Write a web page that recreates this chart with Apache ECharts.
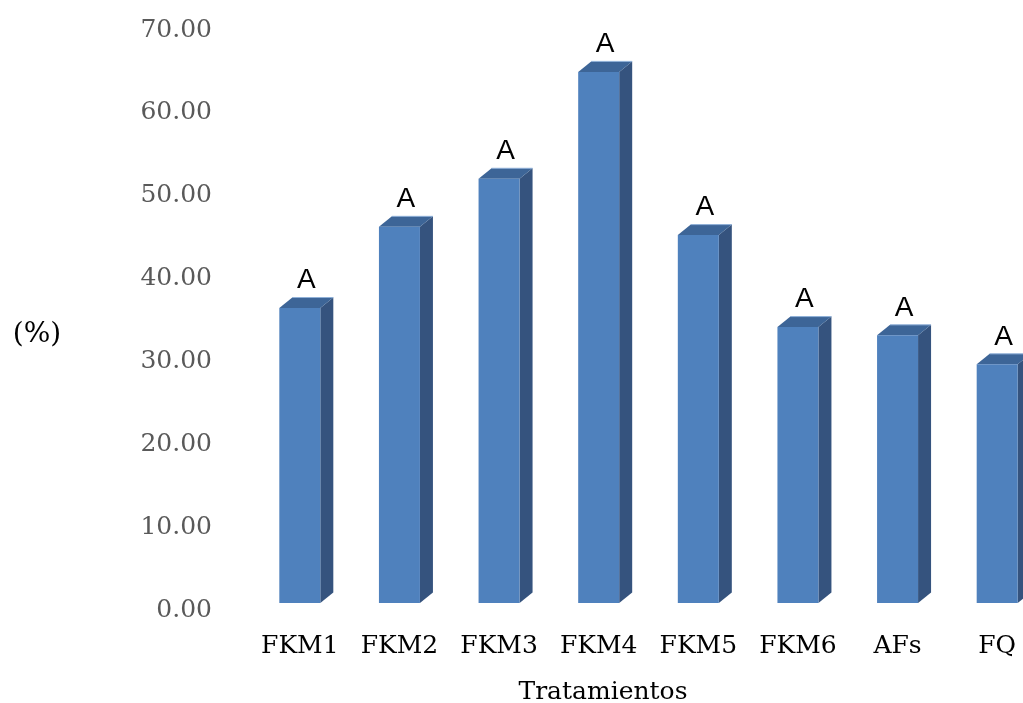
<!DOCTYPE html>
<html>
<head>
<meta charset="utf-8">
<script src="https://cdn.jsdelivr.net/npm/echarts@6/dist/echarts.min.js"></script>
<style>html,body{margin:0;padding:0;background:#fff}#c{width:1023px;height:703px}</style>
</head>
<body>
<div id="c"></div>
<script>
const categories = ['FKM1', 'FKM2', 'FKM3', 'FKM4', 'FKM5', 'FKM6', 'AFs', 'FQ'];
const values = [35.6, 45.4, 51.2, 64.1, 44.4, 33.3, 32.3, 28.8];
const letters = ['A', 'A', 'A', 'A', 'A', 'A', 'A', 'A'];
const yTicks = { min: 0, max: 70, interval: 10 };

const SERIF = '"DejaVu Serif", "Liberation Serif", serif';
const chart = echarts.init(document.getElementById('c'));

const FRONT_W = 41, DX = 13, DY = -10.5, FLOOR = -7;

function renderBar(params, api) {
  const i = api.value(0), v = api.value(1);
  const b = api.coord([i, 0]);
  const t = api.coord([i, v]);
  const xl = b[0] - FRONT_W / 2, xr = b[0] + FRONT_W / 2;
  const yb = b[1] + FLOOR, yt = t[1] + FLOOR;
  return {
    type: 'group',
    children: [
      { type: 'polygon', shape: { points: [[xr, yt], [xr + DX, yt + DY], [xr + DX, yb + DY], [xr, yb]] },
        style: { fill: '#35537e' } },
      { type: 'polygon', shape: { points: [[xl, yt], [xl + DX, yt + DY], [xr + DX, yt + DY], [xr, yt]] },
        style: { fill: '#3d6597' } },
      { type: 'line', shape: { x1: xl + DX, y1: yt + DY, x2: xr + DX, y2: yt + DY },
        style: { stroke: '#8fb0d8', lineWidth: 1 } },
      { type: 'rect', shape: { x: xl, y: yt, width: FRONT_W, height: yb - yt },
        style: { fill: '#4f81bd' } },
      { type: 'text', style: { text: letters[params.dataIndex], x: b[0] + DX / 2, y: yt + DY - 3,
          align: 'center', verticalAlign: 'bottom', fill: '#000',
          font: '28px "Liberation Sans", Arial, sans-serif' } }
    ]
  };
}

chart.setOption({
  animation: false,
  backgroundColor: '#fff',
  grid: { left: 250, top: 30, right: -24, bottom: 93, containLabel: false, outerBoundsMode: 'none' },
  xAxis: {
    type: 'category',
    data: categories,
    axisLine: { show: false },
    axisTick: { show: false },
    axisLabel: { interval: 0, color: '#000', fontFamily: SERIF, fontSize: 25, lineHeight: 26, margin: 23 }
  },
  yAxis: {
    type: 'value',
    min: yTicks.min, max: yTicks.max, interval: yTicks.interval,
    splitLine: { show: false },
    axisLine: { show: false },
    axisTick: { show: false },
    axisLabel: { color: '#595959', fontFamily: SERIF, fontSize: 25, margin: 38,
      formatter: v => v.toFixed(2) }
  },
  graphic: [
    { type: 'text', x: 37, y: 335, style: { text: '(%)', fill: '#000', font: '28px ' + SERIF,
        align: 'center', verticalAlign: 'middle' } },
    { type: 'text', x: 603, y: 692, style: { text: 'Tratamientos', fill: '#000', font: '25px ' + SERIF,
        align: 'center', verticalAlign: 'middle' } }
  ],
  series: [{
    type: 'custom',
    renderItem: renderBar,
    data: values.map((v, i) => [i, v]),
    encode: { x: 0, y: 1 },
    clip: false
  }]
});
</script>
</body>
</html>
